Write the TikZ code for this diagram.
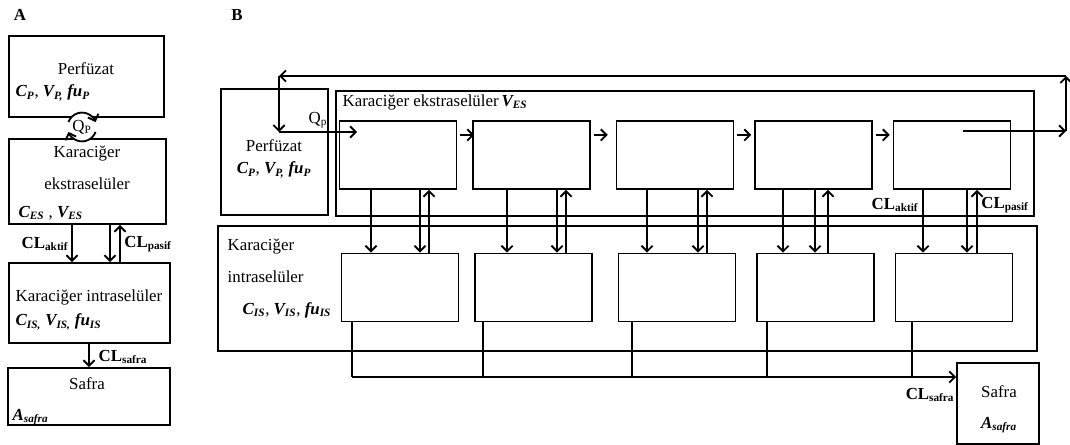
\documentclass[tikz,border=0pt]{standalone}
\usepackage{fontspec}
\setmainfont{Liberation Serif}
\usetikzlibrary{arrows.meta, calc, positioning}

\newcommand{\bfsub}[2]{\textbf{\textit{#1\textsubscript{#2}}}}

\begin{document}
\begin{tikzpicture}[
  x=0.025cm, y=-0.025cm,
  box/.style={draw, line width=1.3pt, inner sep=0pt},
  cell/.style={box, minimum width=2.925cm, minimum height=1.7cm},
  lbl/.style={font=\fontsize{12}{14}\selectfont, inner sep=1pt},
  tag/.style={font=\bfseries\fontsize{12}{14}\selectfont, inner sep=1pt},
  wire/.style={line width=1.3pt},
  arr/.style={-{Straight Barb[length=4pt, width=8pt, line width=1.3pt]}, line width=1.3pt}
]
  \useasboundingbox (0,0) rectangle (1070,445);

  % panel A
  \node[tag] (labA) at (20,15) {A};
  \node[box, minimum width=3.875cm, minimum height=2.025cm] (pA)  at (86.5,76.5) {};
  \node[box, minimum width=3.925cm, minimum height=2.125cm] (esA) at (87.5,181.5) {};
  \node[box, minimum width=4.025cm, minimum height=2.0cm]   (isA) at (89.5,303) {};
  \node[box, minimum width=4.05cm,  minimum height=1.425cm] (sA)  at (89,396.5) {};

  \node[lbl] (pAname) at (86,69) {Perfüzat};
  \node[lbl, anchor=west] (pApar) at (14,93) {\bfsub{C}{P}, \bfsub{V}{P,} \bfsub{fu}{P}};
  \node[lbl] (esAname) at (87,154) {Karaciğer};
  \node[lbl] (esAname2) at (87,184) {ekstraselüler};
  \node[lbl, anchor=west] (esApar) at (17,213) {\bfsub{C}{ES} , \bfsub{V}{ES}};
  \node[lbl] (isAname) at (89,297) {Karaciğer intraselüler};
  \node[lbl, anchor=west] (isApar) at (14,322) {\bfsub{C}{IS,} \bfsub{V}{IS,} \bfsub{fu}{IS}};
  \node[lbl] (sAname) at (87,384) {Safra};
  \node[lbl, anchor=west] (sApar) at (11,417) {\bfsub{A}{safra}};

  % flow circle
  \coordinate (qA) at (82,127);
  \fill[white] (qA) circle[radius=0.36cm];
  \draw[arr] (qA) ++(160:0.36cm) arc[start angle=160, end angle=20, radius=0.36cm];
  \draw[arr] (qA) ++(-20:0.36cm) arc[start angle=-20, end angle=-160, radius=0.36cm];
  \node[lbl] (qAlbl) at (qA) {Q\textsubscript{P}};

  \draw[arr] (esA.south -| 72,0)  -- (isA.north -| 72,0);
  \draw[arr] (esA.south -| 110,0) -- (isA.north -| 110,0);
  \draw[arr] (isA.north -| 120,0) -- (esA.south -| 120,0);
  \draw[arr] (isA.south -| 89,0)  -- (sA.north -| 89,0);
  \node[lbl] (claA) at (45,244)  {\textbf{CL\textsubscript{aktif}}};
  \node[lbl] (clpA) at (148,244) {\textbf{CL\textsubscript{pasif}}};
  \node[lbl] (clsA) at (123,357) {\textbf{CL\textsubscript{safra}}};

  % panel B
  \node[tag] (labB) at (237,15) {B};
  \node[box, minimum width=2.675cm, minimum height=3.15cm]   (pB)  at (274.5,152) {};
  \node[box, minimum width=17.45cm, minimum height=3.125cm]  (esB) at (685,153.5) {};
  \node[box, minimum width=20.475cm, minimum height=3.125cm] (isB) at (627.5,288.5) {};
  \node[box, minimum width=2.05cm, minimum height=2.025cm]   (sB)  at (998,403.5) {};

  \node[lbl] (pBname) at (274,146) {Perfüzat};
  \node[lbl] (pBpar) at (274,170) {\bfsub{C}{P}, \bfsub{V}{P,} \bfsub{fu}{P}};
  \node[lbl, anchor=west] (esBname) at (341,102) {Karaciğer ekstraselüler\,\bfsub{V}{ES}};
  \node[lbl, anchor=west] (isBname) at (226,247) {Karaciğer};
  \node[lbl, anchor=west] (isBname2) at (226,277) {intraselüler};
  \node[lbl, anchor=west] (isBpar) at (241,310) {\bfsub{C}{IS}, \bfsub{V}{IS}, \bfsub{fu}{IS}};
  \node[lbl] (sBname) at (999,392) {Safra};
  \node[lbl] (sBpar) at (999,425) {\bfsub{A}{safra}};

  \foreach \n/\x in {1/398, 2/531.5, 3/675, 4/813.5, 5/952} {
    \node[cell] (e\n) at (\x,155) {};
    \node[cell] (i\n) at (\x+2,287.5) {};
  }
  \foreach \n in {1,...,4}
    \draw[arr] ([xshift=2pt, yshift=0.5cm]e\n.east) -- ++(14,0);

  \foreach \n/\a/\b/\c in {1/371/420/429, 2/507/557/566, 3/647/698/707,
                           4/783/815/828, 5/923/967/977} {
    \draw[arr] (e\n.south -| \a,0) -- (i\n.north -| \a,0);
    \draw[arr] (e\n.south -| \b,0) -- (i\n.north -| \b,0);
    \draw[arr] (i\n.north -| \c,0) -- (e\n.south -| \c,0);
  }
  \node[lbl] (claB) at (895,205)  {\textbf{CL\textsubscript{aktif}}};
  \node[lbl] (clpB) at (1005,205) {\textbf{CL\textsubscript{pasif}}};

  % recirculation loop
  \coordinate (outS) at (963,131);
  \coordinate (outR) at (1066,131);
  \coordinate (topR) at (1066,76);
  \coordinate (topL) at (279,76);
  \coordinate (inL)  at (279,132);
  \coordinate (inE)  at (357,132);
  \draw[arr] (outS) -- (outR);
  \draw[arr] (outR) -- (topR);
  \draw[arr] (topR) -- (topL);
  \draw[arr] (topL) -- (inL);
  \draw[arr] (inL) -- (inE) node[lbl, midway, above=1pt] (qB) {Q\textsubscript{p}};

  % bile collection
  \foreach \n/\x in {1/352, 2/483, 3/632, 4/767, 5/912}
    \draw[wire] (i\n.south -| \x,0) -- (\x,377);
  \coordinate (bus) at (352,377);
  \draw[arr] (bus) -- (bus -| sB.west);
  \node[lbl] (clsB) at (930,395) {\textbf{CL\textsubscript{safra}}};
\end{tikzpicture}
\end{document}
